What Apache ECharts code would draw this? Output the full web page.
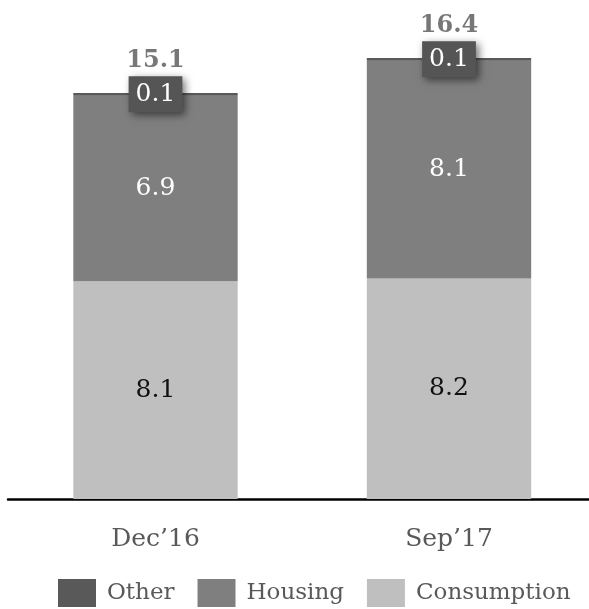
<!DOCTYPE html>
<html>
<head>
<meta charset="utf-8">
<script src="https://cdn.jsdelivr.net/npm/echarts@6/dist/echarts.min.js"></script>
<style>
  html, body { margin: 0; padding: 0; background: #fff; }
  #chart { width: 589px; height: 609px; }
</style>
</head>
<body>
<div id="chart"></div>
<script>
// Stacked household debt components per period
var categories = ['Dec\u201916', 'Sep\u201917'];
var consumption = [8.1, 8.2];
var housing = [6.9, 8.1];
var other = [0.1, 0.1];
var seriesNames = ['Other', 'Housing', 'Consumption'];

var totals = categories.map(function (_, i) {
  return Math.round((consumption[i] + housing[i] + other[i]) * 10) / 10;
});

var FONT = 'DejaVu Serif';
var fmt = function (p) { return p.value.toFixed(1); };

var chart = echarts.init(document.getElementById('chart'));
chart.setOption({
  animation: false,
  grid: [
    // bar grid: category ticks sit on the grid edges, one band apart
    { left: 155.5, right: 140, top: 15, bottom: 110 },
    // full-width baseline
    { left: 8, right: 0, top: 15, bottom: 110 }
  ],
  xAxis: [
    {
      type: 'category',
      gridIndex: 0,
      data: categories,
      boundaryGap: false,
      axisLine: { show: false },
      axisTick: { show: false },
      axisLabel: { color: '#595959', fontFamily: FONT, fontSize: 25, margin: 28 }
    },
    {
      type: 'value',
      gridIndex: 1,
      min: 0,
      max: 1,
      axisLine: { show: true, lineStyle: { color: '#000', width: 2.5 } },
      axisTick: { show: false },
      axisLabel: { show: false },
      splitLine: { show: false }
    }
  ],
  yAxis: [
    { type: 'value', gridIndex: 0, min: 0, max: 18, show: false, splitLine: { show: false } },
    { type: 'value', gridIndex: 1, min: 0, max: 1, show: false, splitLine: { show: false } }
  ],
  legend: {
    data: seriesNames,
    left: 58,
    top: 579,
    padding: 0,
    itemWidth: 38,
    itemHeight: 28,
    itemGap: 23,
    icon: 'rect',
    textStyle: { color: '#595959', fontFamily: FONT, fontSize: 23, padding: [0, 0, 0, 6] }
  },
  series: [
    {
      name: 'Consumption',
      type: 'bar',
      stack: 'total',
      barWidth: '56%',
      data: consumption,
      itemStyle: { color: '#bfbfbf' },
      label: { show: true, position: 'inside', color: '#111', fontFamily: FONT, fontSize: 25, formatter: fmt }
    },
    {
      name: 'Housing',
      type: 'bar',
      stack: 'total',
      data: housing,
      itemStyle: { color: '#7f7f7f' },
      label: { show: true, position: 'inside', color: '#fff', fontFamily: FONT, fontSize: 25, formatter: fmt }
    },
    {
      name: 'Other',
      type: 'bar',
      stack: 'total',
      data: other,
      itemStyle: { color: '#595959' },
      z: 3,
      label: {
        show: true, position: 'inside', color: '#fff',
        fontFamily: FONT, fontSize: 25,
        backgroundColor: '#555555',
        padding: [6, 7, 5, 7],
        shadowColor: 'rgba(0,0,0,0.55)',
        shadowBlur: 8,
        shadowOffsetX: 3,
        shadowOffsetY: 3,
        formatter: fmt
      }
    },
    {
      name: 'Total',
      type: 'scatter',
      data: totals,
      symbolSize: 0,
      z: 5,
      label: {
        show: true, position: 'top', distance: 20,
        color: '#555555', fontFamily: FONT, fontSize: 24, fontWeight: 'bold',
        formatter: fmt
      }
    }
  ]
});
</script>
</body>
</html>
